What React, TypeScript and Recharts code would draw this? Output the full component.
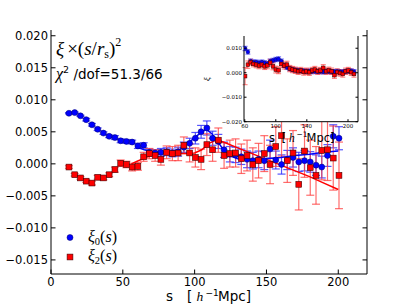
import React from "react"
import { ComposedChart, Scatter, Line, XAxis, YAxis, ErrorBar } from "recharts"

// main panel: xi * (s/rs)^2
const sBins = [
  12.5, 16.5, 20.5, 24.5, 28.5, 32.5, 36.5, 40.5, 44.5, 48.5, 52.5, 56.5, 60.5, 64.5, 68.5, 72.5,
  76.5, 80.5, 84.5, 88.5, 92.5, 96.5, 100.5, 104.5, 108.5, 112.5, 116.5, 120.5, 124.5, 128.5, 132.5,
  136.5, 140.5, 144.5, 148.5, 152.5, 156.5, 160.5, 164.5, 168.5, 172.5, 176.5, 180.5, 184.5, 188.5,
  192.5, 196.5, 200.5,
]
const xi0 = [
  0.0079, 0.008, 0.0075, 0.0069, 0.0061, 0.0054, 0.0048, 0.0043, 0.0041, 0.0036, 0.0035, 0.0034,
  0.0028, 0.0029, 0.0018, 0.0017, 0.0018, 0.0019, 0.0017, 0.0019, 0.0026, 0.0032, 0.004, 0.005,
  0.0056, 0.004, 0.0035, 0.0022, 0.0015, 0.0014, 0.0011, 0.0007, 0.0005, 0.0007, 0.0005, 0.0023,
  0.0006, -0.0001, 0.0006, 0.001, 0.0003, 0.0005, 0.0003, -0.0002, -0.0005, 0.0013, 0.0043, 0.004,
]
const xi0Err = [
  0.0001, 0.0001, 0.0001, 0.0002, 0.0002, 0.0002, 0.0002, 0.0002, 0.0003, 0.0003, 0.0003, 0.0003,
  0.0004, 0.0004, 0.0005, 0.0005, 0.0006, 0.0006, 0.0006, 0.0007, 0.0008, 0.0008, 0.0009, 0.001,
  0.0011, 0.0011, 0.0011, 0.0012, 0.0012, 0.0012, 0.0012, 0.0013, 0.0013, 0.0013, 0.0014, 0.0014,
  0.0014, 0.0015, 0.0015, 0.0015, 0.0015, 0.0016, 0.0016, 0.0016, 0.0017, 0.0017, 0.0018, 0.0018,
]
const xi2 = [
  -0.0005, -0.0017, -0.0022, -0.0027, -0.003, -0.0021, -0.0022, -0.0017, -0.0009, 0.0001, -0.0001,
  -0.0005, -0.0004, 0.0011, 0.0016, 0.0013, 0.0007, 0.0018, 0.0016, 0.0017, 0.0029, 0.0017, 0.001,
  0.0007, 0.003, 0.0022, 0.0037, 0.0013, 0.0016, 0.0017, 0.0008, 0.0013, -0.0001, 0.0005, 0.0016,
  -0.0001, 0.0027, 0.0044, 0.0005, 0.0017, -0.0032, 0.002, -0.0006, -0.0018, 0.0021, 0.0022, 0.0009,
  -0.0018,
]
const xi2Err = [
  0.0002, 0.0002, 0.0002, 0.0002, 0.0003, 0.0003, 0.0003, 0.0003, 0.0004, 0.0005, 0.0005, 0.0006,
  0.0006, 0.0007, 0.0008, 0.0009, 0.0009, 0.001, 0.0011, 0.0012, 0.0013, 0.0014, 0.0015, 0.0016,
  0.0017, 0.0018, 0.0019, 0.002, 0.0021, 0.0022, 0.0023, 0.0024, 0.0026, 0.0027, 0.0028, 0.003,
  0.0031, 0.0032, 0.0034, 0.0035, 0.004, 0.0041, 0.0043, 0.0045, 0.0046, 0.0048, 0.005, 0.0052,
]

// best-fit model curves
const model0S = [60, 65, 70, 75, 80, 85, 90, 95, 100, 105, 108, 112, 116, 120, 125, 130, 135, 140, 150, 160, 170, 180, 190, 200]
const model0 = [
  0.0026, 0.0022, 0.0019, 0.0018, 0.0018, 0.0019, 0.0023, 0.0031, 0.0041, 0.005, 0.0054, 0.0047,
  0.0035, 0.0022, 0.0012, 0.0008, 0.0007, 0.0007, 0.0008, 0.001, 0.0013, 0.0015, 0.0018, 0.002,
]
const model2S = [56, 60, 65, 70, 75, 80, 85, 90, 95, 100, 105, 110, 115, 120, 130, 140, 150, 160, 170, 180, 190, 200]
const model2 = [
  0.0, 0.0004, 0.0009, 0.0013, 0.0015, 0.0016, 0.0016, 0.0016, 0.0016, 0.0017, 0.0022, 0.0032,
  0.0037, 0.0034, 0.0025, 0.0016, 0.0007, -0.0002, -0.0011, -0.002, -0.003, -0.004,
]

// inset: plain xi
const insetS = [
  60.4, 64, 67.6, 71.2, 74.8, 78.4, 82, 85.6, 89.2, 92.8, 96.4, 100, 103.6, 107.2, 110.8, 114.4,
  118, 121.6, 125.2, 128.8, 132.4, 136, 139.6, 143.2, 146.8, 150.4, 154, 157.6, 161.2, 164.8, 168.4,
  172, 175.6, 179.2, 182.8, 186.4, 190, 193.6, 197.2, 200.8,
]
const insetXi0 = [
  0.0099, 0.0085, 0.0047, 0.0043, 0.0043, 0.004, 0.0043, 0.004, 0.0037, 0.0047, 0.005, 0.0054,
  0.0056, 0.0047, 0.003, 0.0022, 0.0017, 0.0013, 0.0011, 0.0009, 0.0008, 0.0007, 0.0006, 0.0006,
  0.0005, 0.0006, 0.0005, 0.0005, 0.0004, 0.0006, 0.0005, 0.0004, 0.0004, 0.0005, 0.0004, 0.0003,
  0.0005, 0.0006, 0.0007, 0.0004,
]
const insetXi2 = [
  -0.0014, 0.0033, 0.0043, 0.0036, 0.0033, 0.0029, 0.0033, 0.0026, 0.003, 0.0041, 0.0026, 0.0013,
  0.001, 0.0036, 0.0029, 0.0033, 0.0017, 0.0013, 0.001, 0.0006, 0.0009, 0.0003, 0.0006, 0.0002,
  0.0009, 0.0013, 0.0006, 0.0009, 0.002, 0.0006, 0.001, 0.0006, -0.001, 0.0003, -0.0001, -0.0005,
  0.0006, 0.0009, 0.0002, -0.0005,
]
const insetErr0 = 0.0009
const insetErr2 = [
  0.0035, 0.0015, 0.0012, 0.0012, 0.0013, 0.0013, 0.0013, 0.0013, 0.0014, 0.0014, 0.0014, 0.0014,
  0.0014, 0.0014, 0.0014, 0.0014, 0.0013, 0.0013, 0.0013, 0.0013, 0.0013, 0.0013, 0.0013, 0.0013,
  0.0013, 0.0013, 0.0013, 0.0013, 0.0013, 0.0013, 0.0013, 0.0013, 0.0013, 0.0013, 0.0013, 0.0013,
  0.0013, 0.0013, 0.0013, 0.0013,
]

const mainXTicks = [0, 50, 100, 150, 200]
const mainYTicks = [0.02, 0.015, 0.01, 0.005, 0, -0.005, -0.01, -0.015]
const insetXTicks = [60, 80, 100, 120, 140, 160, 180, 200]
const insetYTicks = [0.01, 0.005, 0, -0.005, -0.01, -0.015, -0.02]

const blueData = sBins.map((s, i) => ({ s, v: xi0[i], e: xi0Err[i] }))
const redData = sBins.map((s, i) => ({ s, v: xi2[i], e: xi2Err[i] }))
const blueModel = model0S.map((s, i) => ({ s, v: model0[i] }))
const redModel = model2S.map((s, i) => ({ s, v: model2[i] }))
const insetBlue = insetS.map((s, i) => ({ s, v: insetXi0[i], e: insetErr0 }))
const insetRed = insetS.map((s, i) => ({ s, v: insetXi2[i], e: insetErr2[i] }))

const SANS = "DejaVu Sans"
const SERIF = "Liberation Serif"

const fmtY = (v: number) => (v < 0 ? "\u2212" : "") + Math.abs(v).toFixed(3)

// matplotlib-style inward ticks
const bottomTick = (len: number, fs: number, gap: number) => (p: any) => (
  <g>
    <line x1={p.x} x2={p.x} y1={p.y} y2={p.y - len} stroke="#000" />
    <text x={p.x} y={p.y + gap} textAnchor="middle" fontSize={fs} fontFamily={SANS} fill="#000">
      {p.payload.value}
    </text>
  </g>
)
const topTick = (len: number) => (p: any) => (
  <line x1={p.x} x2={p.x} y1={p.y} y2={p.y + len} stroke="#000" />
)
const leftTick = (len: number, fs: number, gap: number) => (p: any) => (
  <g>
    <line x1={p.x} x2={p.x + len} y1={p.y} y2={p.y} stroke="#000" />
    <text x={p.x - gap} y={p.y} dy="0.36em" textAnchor="end" fontSize={fs} fontFamily={SANS} fill="#000">
      {fmtY(p.payload.value)}
    </text>
  </g>
)
const rightTick = (len: number) => (p: any) => (
  <line x1={p.x} x2={p.x - len} y1={p.y} y2={p.y} stroke="#000" />
)

const dot = (r: number) => (p: any) => (
  <circle cx={p.cx} cy={p.cy} r={r} fill="#0000ff" stroke="#000066" strokeWidth={0.5} />
)
const square = (h: number) => (p: any) => (
  <rect x={p.cx - h} y={p.cy - h} width={2 * h} height={2 * h} fill="#ff0000" stroke="#440000" strokeWidth={0.6} />
)

function MainChart() {
  return (
    <ComposedChart width={407} height={305} margin={{ top: 30, right: 0, bottom: 0, left: 0 }}>
      <XAxis dataKey="s" type="number" domain={[0, 220]} ticks={mainXTicks} allowDataOverflow
        height={31} tickSize={0} tickMargin={0} axisLine={{ stroke: "#000" }} tick={bottomTick(4.5, 11.5, 12)} />
      <XAxis xAxisId="top" orientation="top" dataKey="s" type="number" domain={[0, 220]} ticks={mainXTicks}
        allowDataOverflow height={0} tickSize={0} tickMargin={0} axisLine={{ stroke: "#000" }} tick={topTick(4.5)} />
      <YAxis dataKey="v" type="number" domain={[-0.0172, 0.0209]} ticks={mainYTicks} allowDataOverflow
        width={51} tickSize={0} tickMargin={0} axisLine={{ stroke: "#000" }} tick={leftTick(4.5, 11.5, 3)} />
      <YAxis yAxisId="right" orientation="right" type="number" domain={[-0.0172, 0.0209]} ticks={mainYTicks}
        allowDataOverflow width={40} tickSize={0} tickMargin={0} axisLine={{ stroke: "#000" }} tick={rightTick(4.5)} />
      <Scatter data={blueData} dataKey="v" shape={dot(3)} isAnimationActive={false}>
        <ErrorBar dataKey="e" direction="y" width={4} stroke="#2a2aff" strokeOpacity={0.8} strokeWidth={1.2} />
      </Scatter>
      <Scatter data={redData} dataKey="v" shape={square(2.9)} isAnimationActive={false}>
        <ErrorBar dataKey="e" direction="y" width={4} stroke="#ff3b3b" strokeOpacity={0.75} strokeWidth={1.2} />
      </Scatter>
      <Line data={redModel} dataKey="v" type="linear" stroke="#ff0000" strokeWidth={1.5} dot={false} isAnimationActive={false} />
      <Line data={blueModel} dataKey="v" type="linear" stroke="#0000ff" strokeWidth={1.5} dot={false} isAnimationActive={false} />
    </ComposedChart>
  )
}

function InsetChart() {
  return (
    <ComposedChart width={160} height={104} margin={{ top: 6, right: 0, bottom: 0, left: 0 }}>
      <XAxis dataKey="s" type="number" domain={[59, 206]} ticks={insetXTicks} allowDataOverflow
        height={12.3} tickSize={0} tickMargin={0} axisLine={{ stroke: "#000" }} tick={bottomTick(2.5, 5.5, 6.5)} />
      <XAxis xAxisId="top" orientation="top" dataKey="s" type="number" domain={[59, 206]} ticks={insetXTicks}
        allowDataOverflow height={0} tickSize={0} tickMargin={0} axisLine={{ stroke: "#000" }} tick={topTick(2.5)} />
      <YAxis dataKey="v" type="number" domain={[-0.02, 0.015]} ticks={insetYTicks} allowDataOverflow
        width={44} tickSize={0} tickMargin={0} axisLine={{ stroke: "#000" }} tick={leftTick(2.5, 5.5, 2)} />
      <YAxis yAxisId="right" orientation="right" type="number" domain={[-0.02, 0.015]} ticks={insetYTicks}
        allowDataOverflow width={2} tickSize={0} tickMargin={0} axisLine={{ stroke: "#000" }} tick={rightTick(2.5)} />
      <Scatter data={insetBlue} dataKey="v" shape={dot(1.9)} isAnimationActive={false}>
        <ErrorBar dataKey="e" direction="y" width={2.5} stroke="#2a2aff" strokeOpacity={0.7} strokeWidth={1} />
      </Scatter>
      <Scatter data={insetRed} dataKey="v" shape={square(1.8)} isAnimationActive={false}>
        <ErrorBar dataKey="e" direction="y" width={2.5} stroke="#ff3b3b" strokeOpacity={0.7} strokeWidth={1} />
      </Scatter>
    </ComposedChart>
  )
}

function Labels() {
  return (
    <svg width={407} height={305} style={{ position: "absolute", left: 0, top: 0, pointerEvents: "none" }}>
      {/* panel annotations */}
      <text x={56} y={55} fontSize={19} fontFamily={SERIF} fontStyle="italic" fill="#000">
        ξ<tspan fontStyle="normal" dx={3}>×(</tspan>s<tspan fontStyle="normal">/</tspan>r
        <tspan dy={3} fontSize={12} fontStyle="normal">s</tspan>
        <tspan dy={-3} fontStyle="normal">)</tspan>
        <tspan dy={-9} fontSize={12} fontStyle="normal">2</tspan>
      </text>
      <text x={56} y={79} fontSize={13.5} fontFamily={SANS} fill="#000">
        <tspan fontFamily={SERIF} fontStyle="italic" fontSize={16}>χ</tspan>
        <tspan dy={-6} fontSize={9.5}>2</tspan>
        <tspan dy={6}> /dof=51.3/66</tspan>
      </text>

      {/* legend */}
      <circle cx={70} cy={237.5} r={3} fill="#0000ff" stroke="#000066" strokeWidth={0.5} />
      <text x={88} y={242} fontSize={16} fontFamily={SERIF} fontStyle="italic" fill="#000">
        ξ<tspan dy={3} fontSize={10.5} fontStyle="normal">0</tspan>
        <tspan dy={-3} fontStyle="normal">(</tspan>s<tspan fontStyle="normal">)</tspan>
      </text>
      <rect x={67.1} y={254.1} width={5.8} height={5.8} fill="#ff0000" stroke="#440000" strokeWidth={0.6} />
      <text x={88} y={261} fontSize={16} fontFamily={SERIF} fontStyle="italic" fill="#000">
        ξ<tspan dy={3} fontSize={10.5} fontStyle="normal">2</tspan>
        <tspan dy={-3} fontStyle="normal">(</tspan>s<tspan fontStyle="normal">)</tspan>
      </text>

      {/* main x label: s [h^-1 Mpc] */}
      <g fontSize={13.5} fontFamily={SANS} fill="#000">
        <text x={166} y={301}>s</text>
        <text x={187} y={301}>[</text>
        <text x={196.5} y={301} fontFamily={SERIF} fontStyle="italic">h</text>
        <text x={205.5} y={295.5} fontSize={9}>−1</text>
        <text x={218} y={301}>Mpc]</text>
      </g>

      {/* inset labels */}
      <text x={210} y={79} fontSize={9} fontFamily={SERIF} fontStyle="italic" textAnchor="middle"
        transform="rotate(-90 210 79)" fill="#000">ξ</text>
      <g fontSize={11.5} fontFamily={SANS} fill="#000">
        <text x={269} y={142}>s</text>
        <text x={281.5} y={142}>[</text>
        <text x={289} y={142} fontFamily={SERIF} fontStyle="italic">h</text>
        <text x={296.5} y={137} fontSize={7.5}>−1</text>
        <text x={306.5} y={142}>Mpc]</text>
      </g>
    </svg>
  )
}

export default function App() {
  return (
    <div style={{ position: "absolute", left: 0, top: 0, width: 407, height: 305, background: "#fff" }}>
      <MainChart />
      <div style={{ position: "absolute", left: 244, top: 36, width: 114, height: 86, background: "#fff" }} />
      <div style={{ position: "absolute", left: 200, top: 30 }}>
        <InsetChart />
      </div>
      <Labels />
    </div>
  )
}
